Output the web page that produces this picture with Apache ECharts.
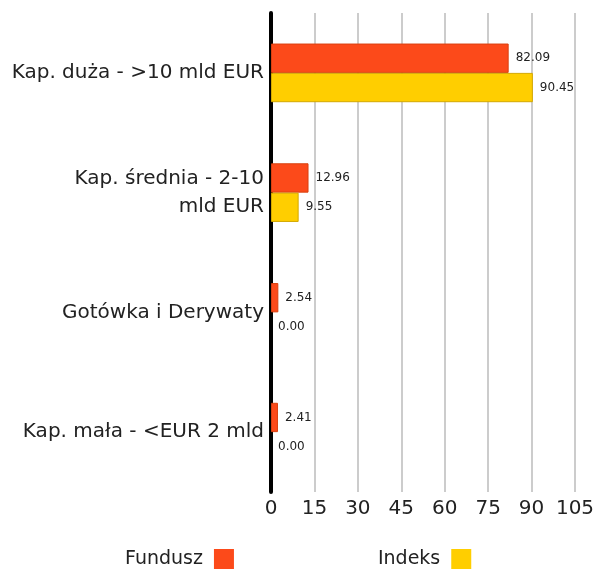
<!DOCTYPE html>
<html>
<head>
<meta charset="utf-8">
<style>
  html, body { margin: 0; padding: 0; background: #fff; }
  #chart { width: 606px; height: 577px; }
</style>
<script src="https://cdn.jsdelivr.net/npm/echarts@6/dist/echarts.min.js"></script>
</head>
<body>
<div id="chart"></div>
<script>
const categories = ['Kap. duża - >10 mld EUR', 'Kap. średnia - 2-10\nmld EUR', 'Gotówka i Derywaty', 'Kap. mała - <EUR 2 mld'];
const fundusz = [82.09, 12.96, 2.54, 2.41];
const indeks = [90.45, 9.55, 0.00, 0.00];
const xTicks = { min: 0, max: 105, interval: 15 };

const chart = echarts.init(document.getElementById('chart'));
const font = 'DejaVu Sans, sans-serif';

// zero-width bars get no outline so nothing shows at 0
function withBorder(values) {
  return values.map(v => v === 0 ? { value: v, itemStyle: { borderWidth: 0 } } : v);
}

const valueLabel = {
  show: true,
  position: 'right',
  distance: 7,
  formatter: p => p.value.toFixed(2),
  fontSize: 12,
  color: '#222',
  fontFamily: font
};

chart.setOption({
  animation: false,
  textStyle: { fontFamily: font },
  grid: { left: 271, right: 31, top: 13, bottom: 85 },
  legend: {
    bottom: 3,
    left: 120,
    itemGap: 144,
    align: 'right',
    itemWidth: 20,
    itemHeight: 20,
    icon: 'rect',
    itemStyle: { borderWidth: 0 },
    textStyle: { fontSize: 19, color: '#222', fontFamily: font, padding: [4, 6, 0, 0] },
    data: ['Fundusz', 'Indeks']
  },
  xAxis: {
    type: 'value',
    min: xTicks.min,
    max: xTicks.max,
    interval: xTicks.interval,
    axisLine: { show: false },
    axisTick: { show: false },
    splitLine: { lineStyle: { color: '#cccccc', width: 2 } },
    axisLabel: { fontSize: 20, color: '#222', margin: 7, fontFamily: font }
  },
  yAxis: {
    type: 'category',
    inverse: true,
    data: categories,
    axisTick: { show: false },
    axisLine: { show: true, lineStyle: { color: '#000', width: 4 } },
    axisLabel: { fontSize: 20, color: '#222', margin: 7, lineHeight: 28, fontFamily: font }
  },
  series: [
    {
      name: 'Fundusz',
      type: 'bar',
      data: withBorder(fundusz),
      barGap: '0%',
      barCategoryGap: '51%',
      itemStyle: { color: '#FC4A1A', borderColor: '#D9400F', borderWidth: 1 },
      label: valueLabel
    },
    {
      name: 'Indeks',
      type: 'bar',
      data: withBorder(indeks),
      itemStyle: { color: '#FFCE00', borderColor: '#D4A900', borderWidth: 1 },
      label: valueLabel
    }
  ]
});
</script>
</body>
</html>
